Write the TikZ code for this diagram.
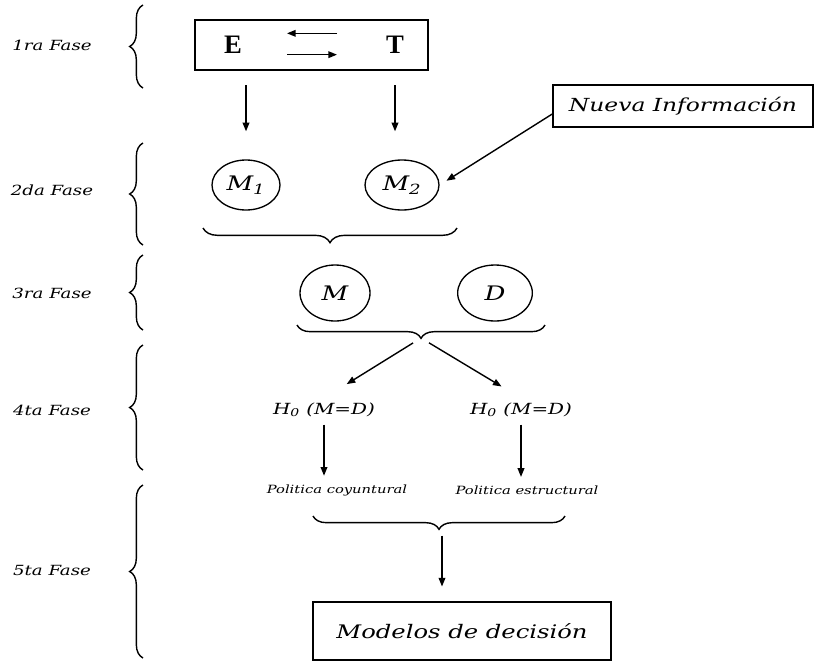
\documentclass[tikz,border=0pt]{standalone}
\usepackage{fontspec}
\usepackage{tikz}
\usetikzlibrary{shapes.geometric,arrows.meta,decorations.pathreplacing}
\newfontfamily\disfont[FakeStretch=1.3]{DejaVu Serif}
\newfontfamily\letfont{Liberation Serif}

\begin{document}
\begin{tikzpicture}[x=0.75pt,y=-0.75pt,
    arr/.style={-{Triangle[length=6.5pt,width=5pt]},line width=1.05pt},
    brc/.style={decorate,decoration={brace,amplitude=#1},line width=1.05pt},
    brc/.default=10pt,
    fase/.style={font=\disfont\itshape\fontsize{10.5}{12}\selectfont},
    elip/.style={draw,ellipse,line width=1pt,inner sep=0pt,font=\disfont\itshape\fontsize{15}{18}\selectfont}]
  \useasboundingbox (0,0) rectangle (816,661);

  % fases
  \foreach \n/\t/\y/\a/\b in {f1/1ra/45/5/88,f2/2da/190/143/245,f3/3ra/293/255/330,f4/4ta/410/345/470,f5/5ta/570/485/658}{
    \node[fase] (\n) at (52,\y) {\t\ Fase};
    \draw[brc] (143,\b) -- (143,\a);
  }

  % 1ra fase
  \node[draw,line width=1.2pt,minimum width=174.75pt,minimum height=37.5pt] (et) at (311.5,45) {};
  \node[font=\letfont\bfseries\fontsize{20}{22}\selectfont] (E) at (233,45) {E};
  \node[font=\letfont\bfseries\fontsize{20}{22}\selectfont] (T) at (395,45) {T};
  \coordinate (al) at (287,44);
  \coordinate (ar) at (337,44);
  \draw[arr] ([yshift=8pt]ar) -- ([yshift=8pt]al);
  \draw[arr] ([yshift=-8pt]al) -- ([yshift=-8pt]ar);

  \node[draw,line width=1.1pt,minimum width=195pt,minimum height=31.5pt,
        font=\disfont\itshape\fontsize{13.5}{16}\selectfont] (nueva) at (683,106) {Nueva Información};

  % 2da fase
  \node[elip,minimum width=51pt,minimum height=37.5pt] (M1) at (246,185) {M\textsubscript{1}};
  \node[elip,minimum width=55.5pt,minimum height=37.5pt] (M2) at (402,185) {M\textsubscript{2}};
  \draw[arr,shorten <=11pt,shorten >=21pt] (M1 |- et.south) -- (M1.north);
  \draw[arr,shorten <=11pt,shorten >=21pt] (T |- et.south) -- (T |- M2.north);
  \draw[arr,shorten >=6pt] ([yshift=-6pt]nueva.west) -- (M2.east);
  \draw[brc=11pt] (457,228) -- (203,228);
  \coordinate (b1t) at (330,243);

  % 3ra fase
  \node[elip,minimum width=52.5pt,minimum height=42pt] (M) at (335,293) {M};
  \node[elip,minimum width=56pt,minimum height=42pt] (D) at (495,293) {D};
  \draw[brc] (545,325) -- (297,325);
  \coordinate (b2t) at (421,338);

  % 4ta fase
  \node[font=\disfont\itshape\fontsize{11.5}{13}\selectfont] (H1) at (324,410) {H\textsubscript{0} (M=D)};
  \node[font=\disfont\itshape\fontsize{11.5}{13}\selectfont] (H2) at (521,410) {H\textsubscript{0} (M=D)};
  \draw[arr,shorten <=7pt,shorten >=20pt] (b2t) -- (H1.north);
  \draw[arr,shorten <=7pt,shorten >=17pt] (b2t) -- (H2.north);
  \node[font=\disfont\itshape\fontsize{8.5}{10}\selectfont] (P1) at (337,490) {Politica coyuntural};
  \node[font=\disfont\itshape\fontsize{8.5}{10}\selectfont] (P2) at (527,490) {Politica estructural};
  \draw[arr,shorten <=2pt,shorten >=3pt] (H1.south) -- (H1.south |- P1.north);
  \draw[arr,shorten <=2pt,shorten >=3pt] (H2.south) -- (H2.south |- P2.north);

  % 5ta fase
  \draw[brc] (565,516) -- (313,516);
  \coordinate (b3t) at (442,529);
  \node[draw,line width=1.2pt,minimum width=223.5pt,minimum height=43.5pt,
        font=\disfont\itshape\fontsize{14}{16}\selectfont] (mod) at (462,631) {Modelos de decisión};
  \draw[arr,shorten <=5pt,shorten >=11pt] (b3t) -- (b3t |- mod.north);
\end{tikzpicture}
\end{document}
